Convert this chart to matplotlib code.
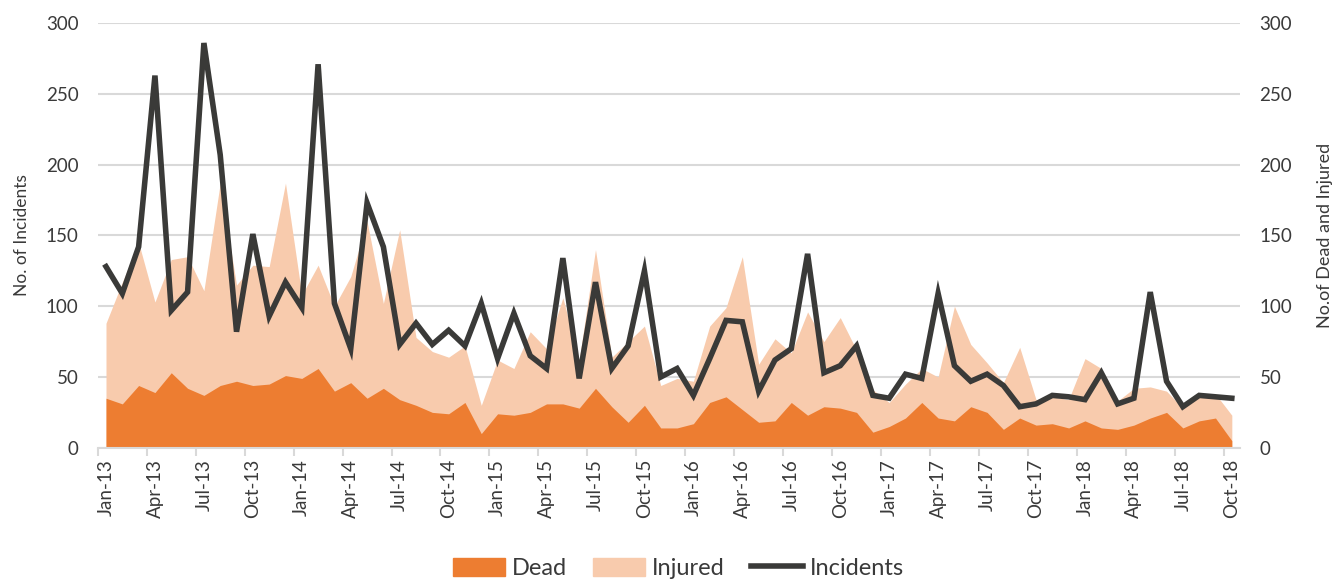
import numpy as np
import matplotlib
matplotlib.use("Agg")
import matplotlib.pyplot as plt
from matplotlib.lines import Line2D
from matplotlib.patches import Patch

plt.rcParams['font.family'] = ['Lato', 'DejaVu Sans']

# monthly data Jan-13 .. Oct-18
months = ['Jan', 'Feb', 'Mar', 'Apr', 'May', 'Jun', 'Jul', 'Aug', 'Sep', 'Oct', 'Nov', 'Dec']
labels = ['%s-%d' % (months[k % 12], 13 + k // 12) for k in range(70)]

incidents = [128, 109, 142, 263, 97, 110, 286, 207, 82, 151, 93, 117,
             99, 271, 102, 70, 173, 142, 73, 88, 73, 83, 72, 102,
             63, 95, 65, 56, 134, 49, 117, 56, 72, 125, 50, 56,
             37, 63, 90, 89, 40, 62, 70, 137, 53, 58, 72, 37,
             35, 52, 49, 109, 58, 47, 52, 44, 29, 31, 37, 36,
             34, 53, 31, 35, 110, 47, 29, 37, 36, 35]

dead = [35, 31, 44, 39, 53, 42, 37, 44, 47, 44, 45, 51,
        49, 56, 40, 46, 35, 42, 34, 30, 25, 24, 32, 10,
        24, 23, 25, 31, 31, 28, 42, 29, 18, 30, 14, 14,
        17, 32, 36, 27, 18, 19, 32, 23, 29, 28, 25, 11,
        15, 21, 32, 21, 19, 29, 25, 13, 21, 16, 17, 14,
        19, 14, 13, 16, 21, 25, 14, 19, 21, 5]

injured = [53, 86, 101, 64, 80, 93, 74, 143, 68, 85, 83, 136,
           59, 73, 60, 75, 125, 60, 120, 48, 43, 40, 40, 20,
           38, 33, 57, 39, 75, 34, 98, 35, 57, 56, 30, 35,
           30, 54, 63, 108, 41, 58, 35, 73, 46, 64, 44, 30,
           17, 24, 24, 29, 81, 44, 35, 33, 50, 18, 19, 20,
           44, 42, 20, 26, 22, 15, 14, 17, 17, 18]

c_dead = '#ED7D31'
c_inj = '#F8CBAD'
c_line = '#3A3A38'
c_grid = '#D9D9D9'
c_text = '#3A3A3A'

x = np.arange(len(labels))
dead = np.array(dead)
total = dead + np.array(injured)

fig = plt.figure(figsize=(13.44, 5.8), dpi=100)
ax = fig.add_axes([0.0728, 0.228, 0.8498, 0.732])
ax2 = ax.twinx()

# areas on the right axis, line on the left axis drawn above
ax2.fill_between(x, 0, total, color=c_inj, lw=0)
ax2.fill_between(x, 0, dead, color=c_dead, lw=0)
ax.plot(x, incidents, color=c_line, lw=4, solid_joinstyle='miter')
ax.set_zorder(ax2.get_zorder() + 1)
ax.patch.set_visible(False)

for a in (ax, ax2):
    a.set_ylim(0, 300)
    a.set_xlim(-0.5, 69.5)
    a.set_yticks(range(0, 301, 50))
    for s in a.spines.values():
        s.set_visible(False)
    a.tick_params(axis='y', length=0, labelsize=13.5, labelcolor=c_text, pad=14)

ax2.grid(axis='y', color=c_grid, lw=1.5)
ax2.set_axisbelow(True)
ax2.spines['bottom'].set_visible(True)
ax2.spines['bottom'].set_color(c_grid)
ax2.spines['bottom'].set_linewidth(1.5)

ax.set_xticks(x[::3])
ax.set_xticklabels(labels[::3], rotation=90, fontsize=13.5, color=c_text)
ax.set_xticks(np.arange(-0.5, 69, 3), minor=True)
ax.tick_params(axis='x', which='major', length=0, pad=8)
ax.tick_params(axis='x', which='minor', length=6, color=c_grid, width=1.5)
ax2.tick_params(axis='x', which='both', length=0)

ax.set_ylabel('No. of Incidents', fontsize=12.5, color=c_text, labelpad=11)
ax2.set_ylabel('No.of Dead and Injured', fontsize=13, color=c_text, labelpad=18)

handles = [Patch(color=c_dead), Patch(color=c_inj),
           Line2D([], [], color=c_line, lw=4)]
fig.legend(handles, ['Dead', 'Injured', 'Incidents'], loc='lower center',
           bbox_to_anchor=(0.505, -0.035), ncol=3, frameon=False, fontsize=17,
           handlelength=2.2, handleheight=0.8, handletextpad=0.3,
           columnspacing=1.1, labelcolor=c_text)

fig.savefig('out.png', dpi=100)
